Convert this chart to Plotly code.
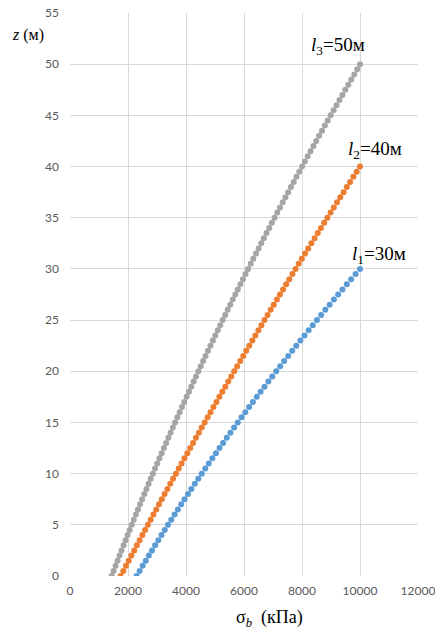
import plotly.graph_objects as go

# depth z (m) and stress sigma_b (kPa) for three pile lengths
z_l1 = [0, 0.5, 1, 1.5, 2, 2.5, 3, 3.5, 4, 4.5, 5, 5.5, 6, 6.5, 7, 7.5, 8, 8.5, 9, 9.5,
        10, 10.5, 11, 11.5, 12, 12.5, 13, 13.5, 14, 14.5, 15, 15.5, 16, 16.5, 17, 17.5,
        18, 18.5, 19, 19.5, 20, 20.5, 21, 21.5, 22, 22.5, 23, 23.5, 24, 24.5, 25, 25.5,
        26, 26.5, 27, 27.5, 28, 28.5, 29, 29.5, 30]
s_l1 = [2295, 2400, 2505, 2612, 2719, 2827, 2936, 3045, 3156, 3267, 3379, 3492, 3605, 3720,
        3835, 3951, 4068, 4185, 4304, 4423, 4543, 4664, 4785, 4908, 5031, 5155, 5280, 5405,
        5532, 5659, 5787, 5916, 6045, 6176, 6307, 6439, 6572, 6705, 6840, 6975, 7111, 7248,
        7385, 7524, 7663, 7803, 7944, 8085, 8228, 8371, 8515, 8660, 8805, 8952, 9099, 9247,
        9396, 9545, 9696, 9847, 10000]

z_l2 = [0, 0.5, 1, 1.5, 2, 2.5, 3, 3.5, 4, 4.5, 5, 5.5, 6, 6.5, 7, 7.5, 8, 8.5, 9, 9.5,
        10, 10.5, 11, 11.5, 12, 12.5, 13, 13.5, 14, 14.5, 15, 15.5, 16, 16.5, 17, 17.5,
        18, 18.5, 19, 19.5, 20, 20.5, 21, 21.5, 22, 22.5, 23, 23.5, 24, 24.5, 25, 25.5,
        26, 26.5, 27, 27.5, 28, 28.5, 29, 29.5, 30, 30.5, 31, 31.5, 32, 32.5, 33, 33.5,
        34, 34.5, 35, 35.5, 36, 36.5, 37, 37.5, 38, 38.5, 39, 39.5, 40]
s_l2 = [1745, 1838, 1931, 2024, 2118, 2212, 2306, 2401, 2495, 2590, 2686, 2781, 2877, 2973,
        3069, 3166, 3262, 3359, 3457, 3554, 3652, 3750, 3848, 3947, 4046, 4145, 4244, 4344,
        4444, 4544, 4645, 4745, 4846, 4947, 5049, 5151, 5252, 5355, 5457, 5560, 5663, 5766,
        5870, 5974, 6078, 6182, 6287, 6391, 6497, 6602, 6708, 6813, 6920, 7026, 7133, 7240,
        7347, 7454, 7562, 7670, 7778, 7886, 7995, 8104, 8213, 8323, 8433, 8543, 8653, 8764,
        8875, 8986, 9097, 9209, 9320, 9433, 9545, 9658, 9770, 9884, 10000]

z_l3 = [0, 0.5, 1, 1.5, 2, 2.5, 3, 3.5, 4, 4.5, 5, 5.5, 6, 6.5, 7, 7.5, 8, 8.5, 9, 9.5,
        10, 10.5, 11, 11.5, 12, 12.5, 13, 13.5, 14, 14.5, 15, 15.5, 16, 16.5, 17, 17.5,
        18, 18.5, 19, 19.5, 20, 20.5, 21, 21.5, 22, 22.5, 23, 23.5, 24, 24.5, 25, 25.5,
        26, 26.5, 27, 27.5, 28, 28.5, 29, 29.5, 30, 30.5, 31, 31.5, 32, 32.5, 33, 33.5,
        34, 34.5, 35, 35.5, 36, 36.5, 37, 37.5, 38, 38.5, 39, 39.5, 40, 40.5, 41, 41.5,
        42, 42.5, 43, 43.5, 44, 44.5, 45, 45.5, 46, 46.5, 47, 47.5, 48, 48.5, 49, 49.5, 50]
s_l3 = [1435, 1503, 1571, 1639, 1708, 1777, 1847, 1916, 1987, 2057, 2128, 2200, 2271, 2343,
        2416, 2489, 2562, 2635, 2709, 2783, 2858, 2933, 3008, 3084, 3160, 3237, 3313, 3391,
        3468, 3546, 3624, 3703, 3782, 3861, 3941, 4021, 4102, 4182, 4264, 4345, 4427, 4509,
        4592, 4675, 4758, 4842, 4926, 5011, 5095, 5181, 5266, 5352, 5438, 5525, 5612, 5700,
        5787, 5875, 5964, 6053, 6142, 6232, 6322, 6412, 6503, 6594, 6685, 6777, 6869, 6961,
        7054, 7147, 7241, 7335, 7429, 7524, 7619, 7715, 7810, 7906, 8003, 8100, 8197, 8295,
        8393, 8491, 8590, 8689, 8788, 8888, 8988, 9089, 9190, 9291, 9393, 9495, 9597, 9700,
        9803, 9906, 10000]

x_ticks = [0, 2000, 4000, 6000, 8000, 10000, 12000]
y_ticks = [0, 5, 10, 15, 20, 25, 30, 35, 40, 45, 50, 55]

series = [
    (s_l1, z_l1, "#5B9BD5", "<i>l</i><sub>1</sub>=30м", 10650, 31.4),
    (s_l2, z_l2, "#ED7D31", "<i>l</i><sub>2</sub>=40м", 10530, 41.6),
    (s_l3, z_l3, "#A5A5A5", "<i>l</i><sub>3</sub>=50м", 9230, 51.8),
]

fig = go.Figure()
serif = "Liberation Serif"
for xs, zs, col, lab, lx, ly in series:
    fig.add_trace(go.Scatter(x=xs, y=zs, mode="markers",
                             marker=dict(color=col, size=6, line=dict(width=0)),
                             showlegend=False, hoverinfo="skip"))
    fig.add_annotation(x=lx, y=ly, xref="x", yref="y", text=lab, showarrow=False,
                       xanchor="center", yanchor="middle",
                       font=dict(family=serif, size=19, color="#000000"))

fig.add_annotation(x=-0.12, y=0.961, xref="paper", yref="paper",
                   text="<i>z</i> (м)", showarrow=False, xanchor="center", yanchor="middle",
                   font=dict(family=serif, size=16, color="#000000"))
fig.add_annotation(x=0.572, y=-0.075, xref="paper", yref="paper",
                   text="σ<sub><i>b</i></sub>  (кПа)", showarrow=False,
                   xanchor="center", yanchor="middle",
                   font=dict(family=serif, size=18, color="#000000"))

tickfont = dict(family="Lato", size=12, color="#595959")
fig.update_xaxes(range=[0, 12000], tickvals=x_ticks, ticktext=[str(v) for v in x_ticks],
                 showgrid=True, gridcolor="#D9D9D9", gridwidth=1, zeroline=False,
                 showline=False, tickfont=tickfont, ticks="", ticklabelstandoff=6,
                 ticklabeloverflow="allow", automargin=False, fixedrange=True)
fig.update_yaxes(range=[0, 55], tickvals=y_ticks, ticktext=[str(v) for v in y_ticks],
                 showgrid=True, gridcolor="#D9D9D9", gridwidth=1, zeroline=False,
                 showline=False, tickfont=tickfont, ticks="", ticklabelstandoff=10,
                 ticklabeloverflow="allow", automargin=False, fixedrange=True)

fig.update_layout(width=435, height=633, margin=dict(l=70, r=17, t=13, b=57),
                  plot_bgcolor="#FFFFFF", paper_bgcolor="#FFFFFF")

fig.write_html("out.html", config={"displayModeBar": False},
               post_script="document.body.style.margin='0';document.body.style.overflow='hidden';")
